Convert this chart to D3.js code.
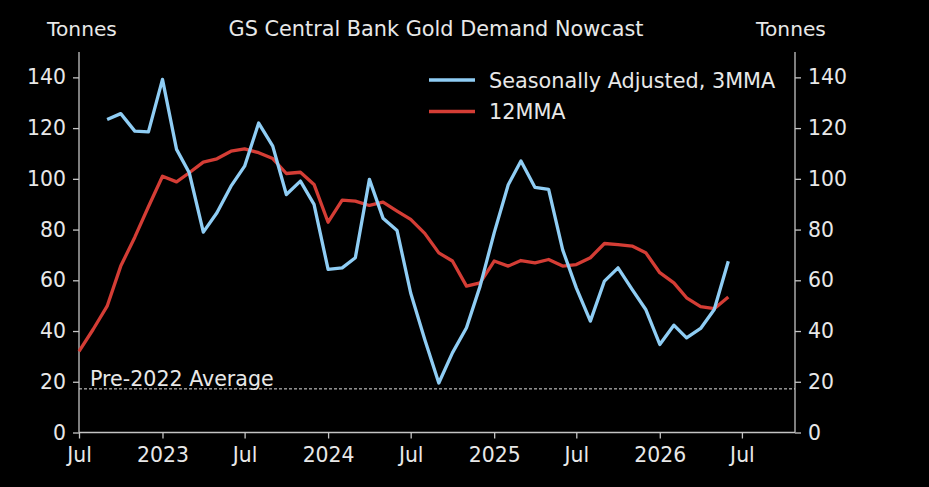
<!DOCTYPE html>
<html>
<head>
<meta charset="utf-8">
<script src="https://cdn.jsdelivr.net/npm/d3@7"></script>
<style>
  body { margin: 0; background: #000; }
  svg { display: block; }
  text { font-family: "DejaVu Sans", sans-serif; fill: #e8e8e8; }
</style>
</head>
<body>
<div id="chart"></div>
<script>
// monthly points, first-of-month dates
var redStart = "2022-07-01";
var blueStart = "2022-09-01";

// Seasonally adjusted, 3MMA (tonnes), Sep 2022 - Jun 2026
var blueValues = [123.4, 125.7, 118.8, 118.5, 139.2, 111.6, 102.4, 79, 86.6, 97.1,
  105, 122, 112.9, 93.8, 99.1, 89.9, 64.3, 64.9, 68.9, 99.8, 84.5, 79.6,
  55, 36.7, 19.5, 31.4, 41.3, 57.7, 78.7, 97.7, 107, 96.6, 95.8, 72,
  57, 43.9, 59.7, 64.9, 56.4, 48.5, 34.7, 42.3, 37.3, 41, 48.5, 67.5];

// 12MMA (tonnes), Jul 2022 - Jun 2026
var redValues = [32, 40.6, 49.8, 65.6, 77, 89, 101, 98.8, 102.4, 106.6, 107.9,
  110.9, 111.8, 110.3, 108, 102.1, 102.6, 97.8, 82.9, 91.6, 91.2, 89.5,
  90.8, 87.3, 84, 78.5, 70.8, 67.6, 57.7, 59, 67.6, 65.6, 67.8, 66.9,
  68.2, 65.6, 66.2, 68.9, 74.5, 74.1, 73.5, 70.9, 63, 59, 53.1, 49.6,
  48.8, 53.4];

var yTicks = [0, 20, 40, 60, 80, 100, 120, 140];
var preAverage = 17.2;

var seriesNames = ["Seasonally Adjusted, 3MMA", "12MMA"];
var seriesColors = ["#8fcdf4", "#d43d35"];

function monthly(start, values) {
  var d0 = new Date(start + "T00:00:00");
  return values.map(function (v, i) {
    return { date: d3.timeMonth.offset(d0, i), value: v };
  });
}

var blueData = monthly(blueStart, blueValues);
var redData = monthly(redStart, redValues);

var W = 929, H = 487;
var margin = { top: 52, right: 134, bottom: 54.5, left: 79 };
var width = W - margin.left - margin.right,
    height = H - margin.top - margin.bottom;

var svg = d3.select("#chart").append("svg")
  .attr("width", W)
  .attr("height", H);

svg.append("rect").attr("width", W).attr("height", H).attr("fill", "#000");

var g = svg.append("g")
  .attr("transform", "translate(" + margin.left + "," + margin.top + ")");

var x = d3.scaleTime()
  .domain([new Date("2022-07-01T00:00:00"), new Date("2026-10-26T00:00:00")])
  .range([0, width]);

var y = d3.scaleLinear()
  .domain([0, 150])
  .range([height, 0]);

var axisColor = "#c4c4c4";
var tickFont = "20.4px";

// x axis: Jul / year labels
var xTicks = [];
for (var yr = 2022; yr <= 2026; yr++) {
  if (yr > 2022) xTicks.push(new Date(yr + "-01-01T00:00:00"));
  xTicks.push(new Date(yr + "-07-01T00:00:00"));
}
var xAxis = d3.axisBottom(x)
  .tickValues(xTicks)
  .tickSize(6)
  .tickPadding(9)
  .tickFormat(function (d) {
    return d.getMonth() === 0 ? d3.timeFormat("%Y")(d) : "Jul";
  });

var yLeft = d3.axisLeft(y).tickValues(yTicks).tickSize(6).tickPadding(7);
var yRight = d3.axisRight(y).tickValues(yTicks).tickSize(6).tickPadding(7);

function styleAxis(sel) {
  sel.select(".domain").attr("stroke", axisColor).attr("stroke-width", 1.3);
  sel.selectAll(".tick line").attr("stroke", axisColor).attr("stroke-width", 1.3);
  sel.selectAll(".tick text")
    .attr("fill", "#e8e8e8")
    .style("font-size", tickFont)
    .style("font-family", "'DejaVu Sans', sans-serif");
}

g.append("g")
  .attr("transform", "translate(0," + height + ")")
  .call(xAxis)
  .call(styleAxis)
  .call(function (s) { s.select(".domain").attr("d", "M0,0H" + width); });

g.append("g").call(yLeft).call(styleAxis)
  .call(function (s) { s.select(".domain").attr("d", "M0," + height + "V0"); });

g.append("g")
  .attr("transform", "translate(" + width + ",0)")
  .call(yRight).call(styleAxis)
  .call(function (s) { s.select(".domain").attr("d", "M0," + height + "V0"); });

// pre-2022 average
g.append("line")
  .attr("x1", 0).attr("x2", width)
  .attr("y1", y(preAverage)).attr("y2", y(preAverage))
  .attr("stroke", "#e0e0e0")
  .attr("stroke-width", 1)
  .attr("stroke-dasharray", "3,2");

g.append("text")
  .attr("x", 11)
  .attr("y", y(preAverage) - 2.5)
  .style("font-size", "20.6px")
  .text("Pre-2022 Average");

var line = d3.line()
  .x(function (d) { return x(d.date); })
  .y(function (d) { return y(d.value); });

g.append("path")
  .datum(redData)
  .attr("fill", "none")
  .attr("stroke", seriesColors[1])
  .attr("stroke-width", 3.3)
  .attr("stroke-linejoin", "round")
  .attr("d", line);

g.append("path")
  .datum(blueData)
  .attr("fill", "none")
  .attr("stroke", seriesColors[0])
  .attr("stroke-width", 3.3)
  .attr("stroke-linejoin", "round")
  .attr("d", line);

// legend
var legend = svg.append("g").attr("transform", "translate(429,80)");
seriesNames.forEach(function (name, i) {
  var row = legend.append("g").attr("transform", "translate(0," + (i * 31.5) + ")");
  row.append("line")
    .attr("x1", 0).attr("x2", 46)
    .attr("stroke", seriesColors[i])
    .attr("stroke-width", 3.5);
  row.append("text")
    .attr("x", 60)
    .attr("y", 7.5)
    .style("font-size", "20.8px")
    .text(name);
});

// titles
svg.append("text")
  .attr("x", margin.left + width / 2 - 1)
  .attr("y", 36)
  .attr("text-anchor", "middle")
  .style("font-size", "20.8px")
  .text("GS Central Bank Gold Demand Nowcast");

svg.append("text")
  .attr("x", 82)
  .attr("y", 36)
  .attr("text-anchor", "middle")
  .style("font-size", "20.2px")
  .text("Tonnes");

svg.append("text")
  .attr("x", 791)
  .attr("y", 36)
  .attr("text-anchor", "middle")
  .style("font-size", "20.2px")
  .text("Tonnes");
</script>
</body>
</html>
